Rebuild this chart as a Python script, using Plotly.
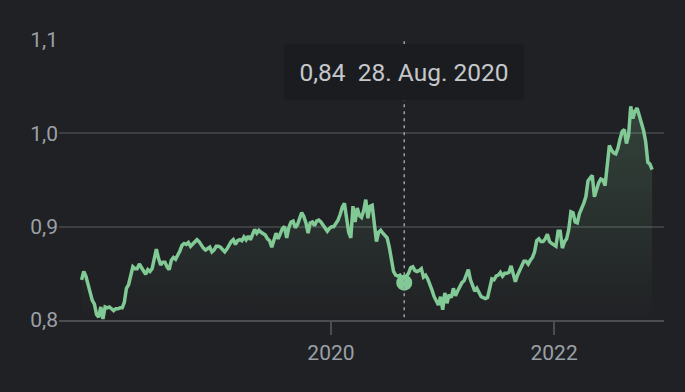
import pandas as pd
import plotly.graph_objects as go

# Weekly closing values (Fridays), Oct 2017 – Nov 2022
start_date = "2017-10-06"
values = [
    0.843, 0.852, 0.847, 0.837, 0.831, 0.821, 0.817, 0.806, 0.803, 0.814,
    0.801, 0.814, 0.813, 0.814, 0.812, 0.810, 0.812, 0.812, 0.813, 0.813,
    0.819, 0.834, 0.838, 0.848, 0.857, 0.855, 0.855, 0.860, 0.856, 0.852,
    0.849, 0.854, 0.852, 0.855, 0.867, 0.876, 0.866, 0.859, 0.862, 0.862,
    0.857, 0.854, 0.864, 0.867, 0.865, 0.869, 0.874, 0.880, 0.882, 0.881,
    0.883, 0.879, 0.881, 0.884, 0.886, 0.884, 0.880, 0.877, 0.875, 0.877,
    0.878, 0.873, 0.875, 0.879, 0.879, 0.878, 0.876, 0.873, 0.876, 0.881,
    0.884, 0.886, 0.881, 0.885, 0.886, 0.885, 0.889, 0.886, 0.890, 0.886,
    0.891, 0.897, 0.893, 0.896, 0.894, 0.893, 0.891, 0.887, 0.885, 0.878,
    0.886, 0.893, 0.887, 0.893, 0.898, 0.900, 0.888, 0.899, 0.905, 0.906,
    0.899, 0.902, 0.910, 0.915, 0.911, 0.904, 0.893, 0.904, 0.905, 0.901,
    0.906, 0.907, 0.905, 0.902, 0.898, 0.895, 0.898, 0.900, 0.900, 0.903,
    0.907, 0.913, 0.921, 0.925, 0.907, 0.894, 0.888, 0.922, 0.905, 0.920,
    0.912, 0.910, 0.917, 0.929, 0.909, 0.922, 0.923, 0.905, 0.884, 0.894,
    0.896, 0.893, 0.891, 0.888, 0.878, 0.865, 0.852, 0.848, 0.847, 0.848,
    0.844, 0.840, 0.847, 0.850, 0.856, 0.857, 0.853, 0.852, 0.853, 0.855,
    0.846, 0.848, 0.844, 0.839, 0.832, 0.825, 0.820, 0.816, 0.825, 0.811,
    0.829, 0.818, 0.827, 0.824, 0.834, 0.826, 0.831, 0.836, 0.840, 0.842,
    0.848, 0.854, 0.843, 0.836, 0.831, 0.834, 0.830, 0.825, 0.824, 0.823,
    0.824, 0.834, 0.844, 0.843, 0.847, 0.848, 0.851, 0.847, 0.850, 0.850,
    0.851, 0.858, 0.848, 0.841, 0.848, 0.853, 0.858, 0.863, 0.863, 0.860,
    0.864, 0.867, 0.873, 0.885, 0.887, 0.884, 0.884, 0.887, 0.892, 0.884,
    0.882, 0.880, 0.879, 0.895, 0.895, 0.877, 0.884, 0.887, 0.897, 0.916,
    0.915, 0.905, 0.904, 0.914, 0.921, 0.925, 0.932, 0.949, 0.952, 0.955,
    0.932, 0.940, 0.947, 0.951, 0.950, 0.944, 0.971, 0.987, 0.982, 0.979,
    0.978, 0.984, 0.994, 1.002, 1.004, 0.989, 0.998, 1.029, 1.016, 1.024,
    1.027, 1.019, 1.009, 1.003, 0.991, 0.969, 0.967, 0.961,
]
dates = pd.date_range(start_date, periods=len(values), freq="7D")

highlight_date = "2020-08-28"
highlight_value = 0.84
highlight_label = "0,84\u00a0\u00a028. Aug. 2020"

y_ticks = [0.8, 0.9, 1.0, 1.1]
x_ticks = ["2020-01-01", "2022-01-01"]
x_ticktext = ["2020", "2022"]
x_range = ["2017-07-24", "2022-12-27"]
y_range = [0.8, 1.1]

GREEN = "#81c995"
BG = "#202124"
GRID = "#3c4043"
TICK = "#9aa0a6"
FONT = "Roboto"

fig = go.Figure()
fig.add_trace(go.Scatter(
    x=dates, y=values, mode="lines",
    line=dict(color=GREEN, width=3.5),
    fill="tozeroy",
    fillgradient=dict(
        type="vertical", start=0.8, stop=1.03,
        colorscale=[[0, "rgba(129,201,149,0)"], [1, "rgba(129,201,149,0.2)"]],
    ),
    hoverinfo="skip",
))
fig.add_trace(go.Scatter(
    x=[highlight_date], y=[highlight_value], mode="markers",
    marker=dict(color=GREEN, size=16), hoverinfo="skip",
))

fig.add_shape(type="line", xref="x", yref="paper",
              x0=highlight_date, x1=highlight_date, y0=0.01, y1=1,
              line=dict(color="#9aa0a6", width=1.5, dash="3px,4px"))

fig.add_annotation(
    x=highlight_date, xref="x", y=0.884, yref="paper",
    text=highlight_label, showarrow=False,
    font=dict(family=FONT, size=24.5, color="#c4c7cb"),
    bgcolor="#1b1c1f", bordercolor="#1b1c1f", borderwidth=1,
    borderpad=12, width=214, height=30,
    xanchor="center", yanchor="middle",
)

fig.update_layout(
    width=685, height=392,
    margin=dict(l=59, r=21, t=40, b=72),
    paper_bgcolor=BG, plot_bgcolor=BG,
    showlegend=False, hovermode=False,
    separators=",.",
    font=dict(family=FONT, color=TICK, size=21),
)
fig.update_xaxes(
    range=x_range, tickvals=x_ticks, ticktext=x_ticktext,
    showgrid=False, showline=True, linecolor="#4a4d51", linewidth=1.5,
    ticks="outside", ticklen=13, tickwidth=1.5, tickcolor="#4a4d51",
    tickfont=dict(family=FONT, size=21, color=TICK),
    zeroline=False,
)
fig.update_yaxes(
    range=y_range, tickvals=y_ticks, tickformat=".1f",
    showgrid=True, gridcolor=GRID, gridwidth=1.5,
    showline=False, zeroline=False, ticks="",
    tickfont=dict(family=FONT, size=21, color=TICK),
)

fig.write_html("out.html")
